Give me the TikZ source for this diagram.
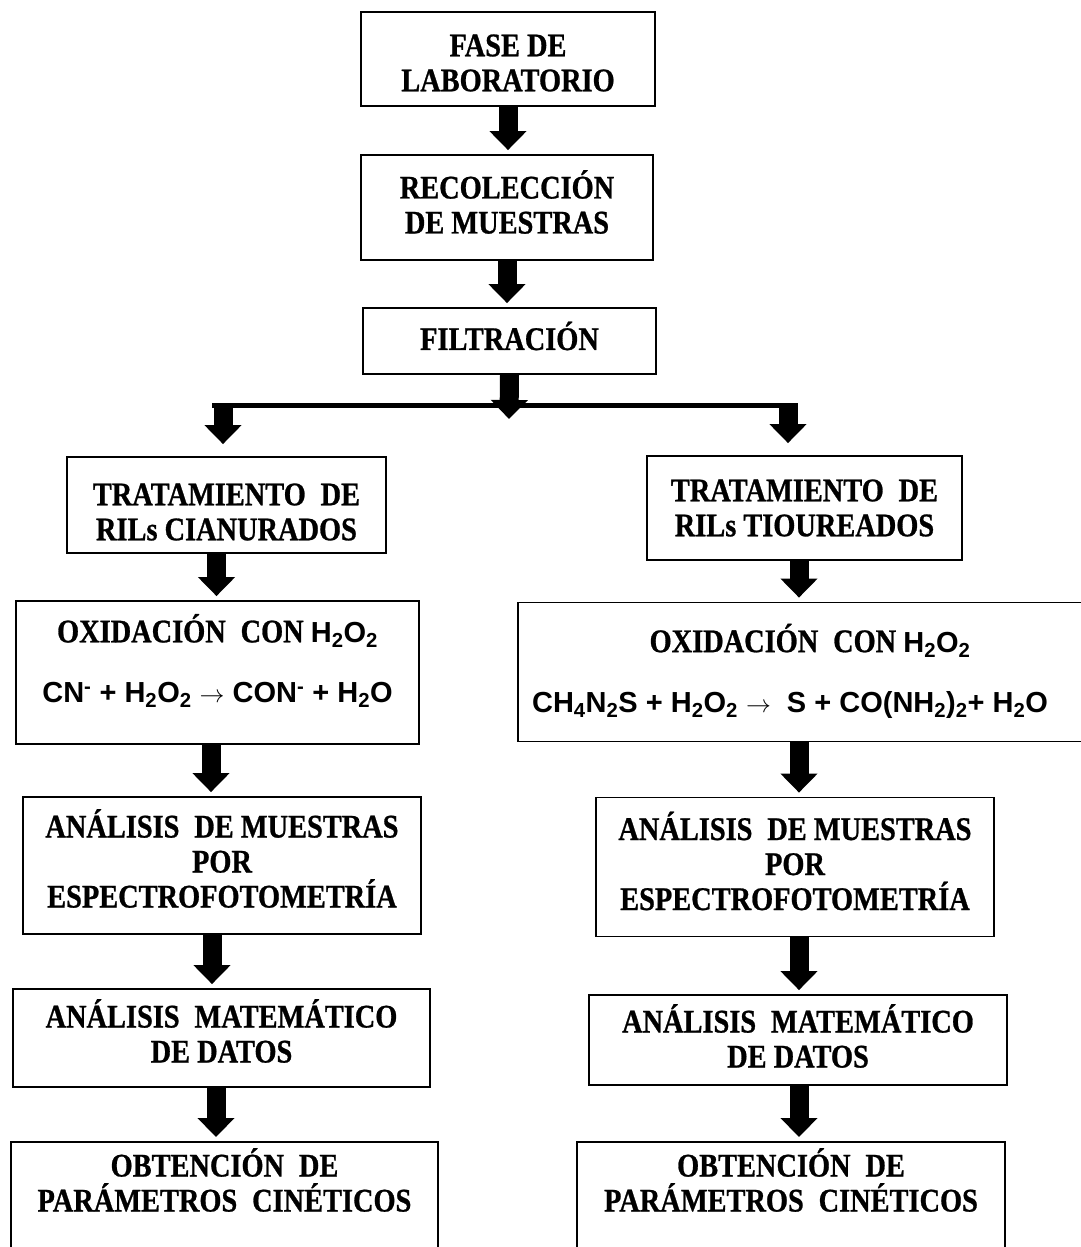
\documentclass[tikz,border=0pt]{standalone}
\usepackage{fontspec}
\setmainfont{Liberation Serif}[FakeStretch=0.86, BoldFeatures={FakeBold=0.8}]
\newfontfamily\chemfont{Liberation Sans}
\usetikzlibrary{arrows.meta}
% wide word gap used in several labels
\newcommand{\wsp}{\hspace{0.45em}}
% chemical formulas are set in a bold sans face
\newcommand{\chm}[1]{{\chemfont\fontsize{29}{35}\selectfont\bfseries #1}}
\begin{document}
\begin{tikzpicture}[x=1pt,y=-1pt,
  frame/.style={draw, line width=1.8pt, inner sep=0pt},
  txt/.style={inner sep=0pt, align=center,
              font=\fontsize{33}{35}\selectfont\bfseries},
  flow/.style={line width=19pt, -{Triangle[width=36pt,length=19pt]},
               shorten >=4pt},
  bar/.style={line width=5pt}]
\useasboundingbox (0,0) rectangle (1081,1247);
\clip (0,0) rectangle (1081,1247);

% trunk
\node[frame, minimum width=294, minimum height=94] (b1) at (508,59) {};
\node[txt] (b1t) at (508,63) {FASE DE\\LABORATORIO};
\node[frame, minimum width=292, minimum height=105] (b2) at (507,207.5) {};
\node[txt] (b2t) at (507,202) {RECOLECCI\'ON\\DE MUESTRAS};
\node[frame, minimum width=293, minimum height=66] (b3) at (509.5,341) {};
\node[txt] (b3t) at (509.5,336) {FILTRACI\'ON};

% left branch (cyanide effluents)
\node[frame, minimum width=319, minimum height=96] (l1) at (226.5,505) {};
\node[txt] (l1t) at (226.5,512) {TRATAMIENTO\wsp DE\\RILs CIANURADOS};
\node[frame, minimum width=403, minimum height=143] (l2) at (217.5,672.5) {};
\node[txt] (l2t) at (217.5,661)
  {OXIDACI\'ON\wsp CON \chm{H\textsubscript{2}O\textsubscript{2}}\\[25pt]
   \chm{CN\textsuperscript{-} + H\textsubscript{2}O\textsubscript{2} {\mdseries$\rightarrow$} CON\textsuperscript{-} + H\textsubscript{2}O}};
\node[frame, minimum width=398, minimum height=137] (l3) at (222,865.5) {};
\node[txt] (l3t) at (222,858.5)
  {AN\'ALISIS\wsp DE MUESTRAS\\POR\\ESPECTROFOTOMETR\'IA};
\node[frame, minimum width=417, minimum height=98] (l4) at (221.5,1038) {};
\node[txt] (l4t) at (221.5,1031) {AN\'ALISIS\wsp MATEM\'ATICO\\DE DATOS};
\node[frame, anchor=north, minimum width=427, minimum height=160] (l5) at (224.5,1141) {};
\node[txt] (l5t) at (224.5,1180)
  {OBTENCI\'ON\wsp DE\\PAR\'AMETROS\wsp CIN\'ETICOS};

% right branch (thiourea effluents)
\node[frame, minimum width=315, minimum height=104] (r1) at (804.5,508) {};
\node[txt] (r1t) at (804.5,508) {TRATAMIENTO\wsp DE\\RILs TIOUREADOS};
\node[frame, minimum width=572, minimum height=139] (r2) at (804,672) {};
\node[txt] (r2t) at (790,671)
  {\hspace*{40pt}OXIDACI\'ON\wsp CON \chm{H\textsubscript{2}O\textsubscript{2}}\\[25pt]
   \chm{CH\textsubscript{4}N\textsubscript{2}S + H\textsubscript{2}O\textsubscript{2} {\mdseries$\rightarrow$}\ \ S + CO(NH\textsubscript{2})\textsubscript{2}+ H\textsubscript{2}O}};
\node[frame, minimum width=398, minimum height=139] (r3) at (795,867) {};
\node[txt] (r3t) at (795,861) {AN\'ALISIS\wsp DE MUESTRAS\\POR\\ESPECTROFOTOMETR\'IA};
\node[frame, minimum width=418, minimum height=90] (r4) at (798,1040) {};
\node[txt] (r4t) at (798,1036) {AN\'ALISIS\wsp MATEM\'ATICO\\DE DATOS};
\node[frame, anchor=north, minimum width=428, minimum height=160] (r5) at (791,1141) {};
\node[txt] (r5t) at (791,1180)
  {OBTENCI\'ON\wsp DE\\PAR\'AMETROS\wsp CIN\'ETICOS};

% trunk arrows
\draw[flow] (b1.south) -- (b1.south |- b2.north);
\draw[flow] (b2.south) -- (b2.south |- b3.north);

% split into the two branches
\coordinate (hub) at (509,419);
\coordinate (barL) at (212,405);
\coordinate (barR) at (797,405);
\coordinate (dl) at (223,403);
\coordinate (dr) at (788,403);
\draw[bar] (barL) -- (barR);
\draw[flow, shorten >=0pt] (b3.south) -- (hub);
\draw[flow, shorten >=12pt] (dl) -- (dl |- l1.north);
\draw[flow, shorten >=12pt] (dr) -- (dr |- r1.north);

% left column arrows
\draw[flow] ([xshift=-10pt]l1.south) -- ([xshift=-10pt]l1.south |- l2.north);
\draw[flow] ([xshift=-6.5pt]l2.south) -- ([xshift=-6.5pt]l2.south |- l3.north);
\draw[flow] ([xshift=-10pt]l3.south) -- ([xshift=-10pt]l3.south |- l4.north);
\draw[flow] ([xshift=-5.5pt]l4.south) -- ([xshift=-5.5pt]l4.south |- l5.north);

% right column arrows
\draw[flow] ([xshift=-5.5pt]r1.south) -- ([xshift=-5.5pt]r1.south |- r2.north);
\draw[flow] ([xshift=-5pt]r2.south) -- ([xshift=-5pt]r2.south |- r3.north);
\draw[flow] ([xshift=4pt]r3.south) -- ([xshift=4pt]r3.south |- r4.north);
\draw[flow] ([xshift=1pt]r4.south) -- ([xshift=1pt]r4.south |- r5.north);
\end{tikzpicture}
\end{document}
